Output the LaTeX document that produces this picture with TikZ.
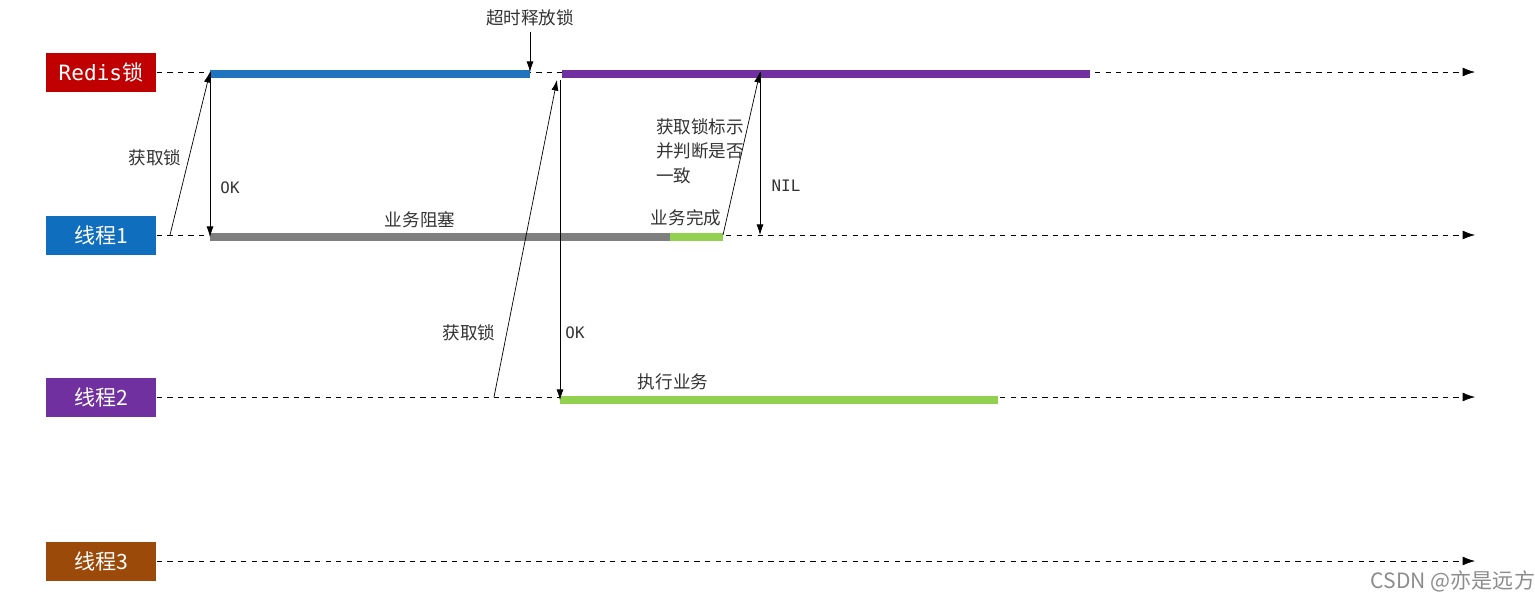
\documentclass[tikz,border=0pt]{standalone}
\usepackage{fontspec}
\setmainfont{Noto Sans CJK SC}
\newfontfamily\monofont{DejaVu Sans Mono}
\usetikzlibrary{positioning,arrows.meta}

\definecolor{lockred}{HTML}{C00000}
\definecolor{tblue}{HTML}{0F6EBE}
\definecolor{tpurple}{HTML}{7030A0}
\definecolor{tbrown}{HTML}{9C4A0A}
\definecolor{barblue}{HTML}{1F74BD}
\definecolor{bargray}{HTML}{7F7F7F}
\definecolor{bargreen}{HTML}{92D050}

\tikzset{
  tag/.style={fill=#1,text=white,minimum width=2.22cm,minimum height=0.78cm,inner sep=0pt,font=\large},
  lane/.style={dashed,-{Latex[length=7pt,width=5pt]},thin},
  bar/.style={line width=4.5pt,#1},
  msg/.style={-{Latex[length=6pt,width=4pt]},thin},
  lbl/.style={font=\normalsize,text=black!80},
  code/.style={font=\monofont\small,text=black!80}
}

\begin{document}
\begin{tikzpicture}[x=0.02cm,y=-0.02cm]
	\useasboundingbox (0,0) rectangle (1535,613);

	% lanes
	\node[tag=lockred] (redis) at (101,72) {\monofont Redis\rmfamily 锁};
	\node[tag=tblue] (t1) at (101,235) {线程1};
	\node[tag=tpurple] (t2) at (101,397) {线程2};
	\node[tag=tbrown] (t3) at (101,561) {线程3};
	\coordinate (re) at (1475,72);
	\coordinate (t1e) at (1475,235);
	\coordinate (t2e) at (1475,397);
	\coordinate (t3e) at (1475,561);
	\draw[lane] (redis.east) -- (re);
	\draw[lane] (t1.east) -- (t1e);
	\draw[lane] (t2.east) -- (t2e);
	\draw[lane] (t3.east) -- (t3e);

	% bars
	\draw[bar=barblue] (210,74) -- (530,74);
	\draw[bar=tpurple] (562,74) -- (1090,74);
	\draw[bar=bargray] (210,237) -- (670,237);
	\draw[bar=bargreen] (670,237) -- (723,237);
	\draw[bar=bargreen] (560,400) -- (998,400);

	% thread 1 first try
	\coordinate (a1) at (170,235);
	\coordinate (a2) at (210,72);
	\coordinate (a3) at (210,237);
	\draw[msg] (a1) -- (a2);
	\draw[msg] (a2) -- (a3);
	\node[lbl] (g1) at (155,158) {获取锁};
	\node[code] (ok1) at (230,188) {OK};

	% timeout
	\node[lbl] (rel) at (530,18) {超时释放锁};
	\coordinate (relt) at (530,72);
	\draw[msg] (rel.south) -- (relt);

	% thread 2
	\coordinate (b1) at (494,397);
	\coordinate (b2) at (557,80);
	\coordinate (b3) at (560,80);
	\coordinate (b4) at (560,400);
	\draw[msg] (b1) -- (b2);
	\draw[msg] (b3) -- (b4);
	\node[lbl] (g2) at (469,333) {获取锁};
	\node[code] (ok2) at (575,333) {OK};

	% thread 1 check
	\coordinate (c1) at (723,235);
	\coordinate (c2) at (760,72);
	\coordinate (c3) at (760,235);
	\draw[msg] (c1) -- (c2);
	\draw[msg] (c2) -- (c3);
	\node[lbl,align=left,anchor=north west] (chk) at (650,112) {获取锁标示\\[2pt]并判断是否\\[2pt]一致};
	\node[code] (nil) at (786,186) {NIL};

	\node[lbl] (block) at (420,220) {业务阻塞};
	\node[lbl] (done) at (686,218) {业务完成};
	\node[lbl] (work) at (673,382) {执行业务};

	\node[text=black!45,font=\large] (wm) at (1453,581) {CSDN @亦是远方};
\end{tikzpicture}
\end{document}
